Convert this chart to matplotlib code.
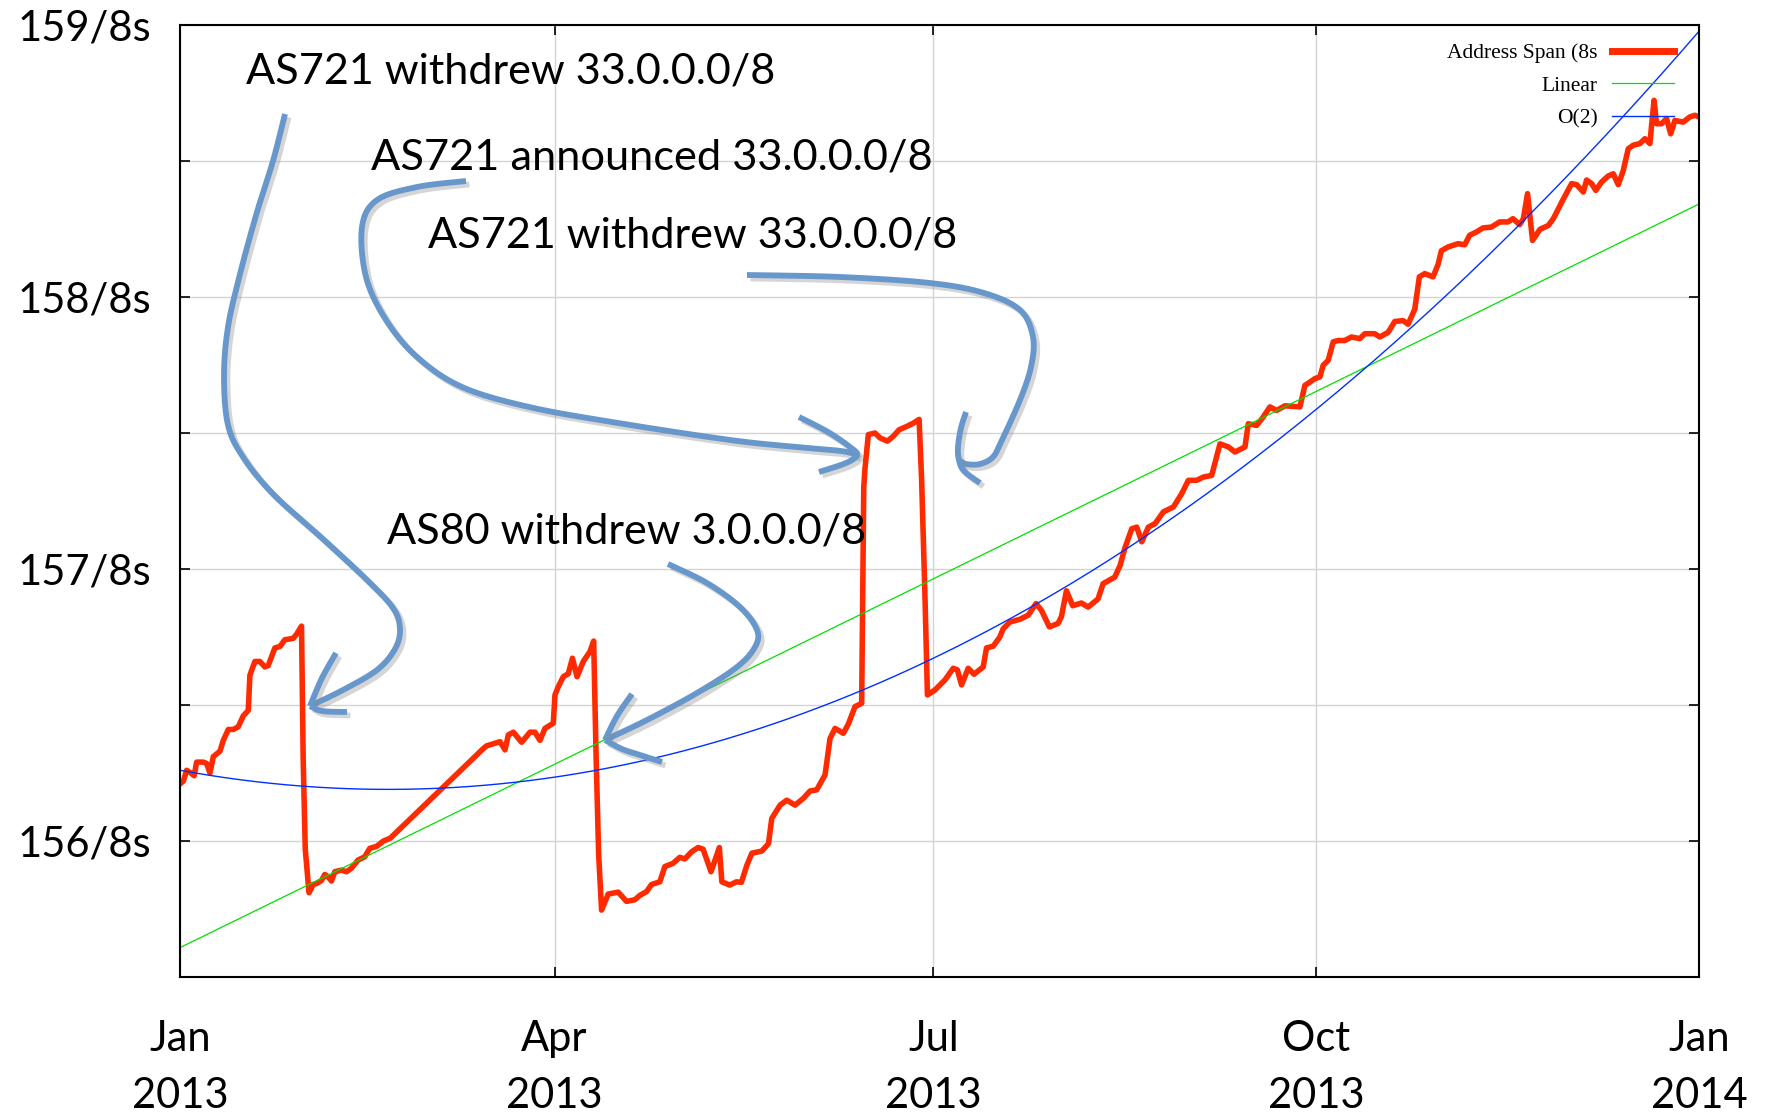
import numpy as np
import matplotlib
matplotlib.use("Agg")
import matplotlib.pyplot as plt
import matplotlib.transforms as mtransforms
import matplotlib.patheffects as pe

# ---------------- data ----------------
days = [0.0, 0.8, 1.6, 2.6, 3.4, 4.0, 5.6, 6.4, 7.2, 8.0, 8.8, 9.6, 10.4, 11.6, 12.8, 14.0,
        15.2, 16.4, 16.8, 18.0, 19.2, 20.4, 21.2, 22.8, 24.0, 25.2, 27.2, 28.0, 29.2, 29.6,
        30.1, 31.0, 32.0, 33.0, 34.0, 34.8, 35.6, 36.4, 37.2, 38.8, 40.0, 41.2, 42.8, 44.4,
        45.6, 47.2, 48.9, 50.5, 72.9, 73.7, 76.9, 78.1, 78.9, 80.1, 82.1, 84.1, 85.3, 86.5,
        87.7, 89.7, 90.1, 90.9, 92.1, 93.3, 94.3, 95.4, 96.9, 98.5, 99.4, 100.0, 100.6, 101.3,
        102.9, 105.3, 107.3, 109.3, 110.5, 112.1, 113.3, 115.3, 116.5, 118.5, 120.1, 121.3,
        122.9, 124.5, 125.7, 127.6, 129.6, 130.2, 132.1, 133.7, 134.9, 136.2, 137.4, 139.8,
        141.4, 142.2, 144.2, 145.8, 147.8, 149.8, 151.4, 153.0, 155.0, 156.2, 157.4, 159.4,
        160.6, 162.2, 163.8, 164.3, 164.6, 165.4, 167.0, 168.2, 170.0, 171.4, 172.8, 174.6,
        176.2, 177.6, 178.2, 179.0, 179.6, 181.4, 183.8, 185.8, 186.8, 187.8, 189.4, 190.8,
        193.0, 193.8, 195.4, 197.0, 197.8, 199.4, 201.8, 203.8, 205.7, 207.0, 208.9, 211.0,
        211.8, 213.0, 214.5, 216.6, 218.2, 220.6, 221.8, 224.6, 225.9, 227.0, 228.7, 229.9,
        231.1, 232.7, 234.3, 236.3, 238.7, 240.7, 242.3, 244.3, 245.9, 247.9, 249.9, 251.9,
        253.5, 255.9, 256.7, 258.7, 260.3, 261.9, 263.5, 265.5, 267.5, 269.1, 270.3, 271.5,
        272.7, 273.9, 274.7, 275.9, 277.1, 278.3, 279.9, 281.5, 283.5, 284.7, 287.1, 288.3,
        290.3, 291.9, 293.9, 295.1, 296.7, 297.8, 299.1, 301.1, 302.3, 303.1, 304.7, 307.1,
        308.7, 309.9, 311.5, 313.1, 315.1, 317.1, 319.1, 320.3, 321.9, 322.8, 323.8, 325.0,
        326.8, 328.8, 330.0, 332.4, 334.4, 335.6, 337.2, 338.0, 339.2, 340.2, 341.6, 343.2,
        344.4, 345.6, 346.8, 348.0, 349.2, 350.8, 352.0, 353.2, 353.6, 354.2, 354.8, 356.0,
        357.2, 358.2, 359.2, 361.2, 362.8, 364.0, 365.0]

span = [156.21, 156.22, 156.26, 156.25, 156.24, 156.29, 156.29, 156.285, 156.25, 156.31, 156.32,
        156.33, 156.37, 156.41, 156.41, 156.42, 156.46, 156.48, 156.61, 156.66, 156.66, 156.64,
        156.645, 156.71, 156.715, 156.74, 156.745, 156.76, 156.79, 156.30, 155.97, 155.81,
        155.84, 155.845, 155.855, 155.877, 155.868, 155.853, 155.887, 155.893, 155.887, 155.90,
        155.93, 155.942, 155.973, 155.98, 156.0, 156.01, 156.34, 156.35, 156.365, 156.335,
        156.39, 156.40, 156.363, 156.40, 156.40, 156.37, 156.414, 156.433, 156.537, 156.567,
        156.604, 156.615, 156.672, 156.604, 156.66, 156.696, 156.735, 156.30, 155.95, 155.746,
        155.805, 155.812, 155.778, 155.784, 155.80, 155.814, 155.84, 155.85, 155.906, 155.918,
        155.94, 155.934, 155.96, 155.976, 155.97, 155.887, 155.976, 155.85, 155.838, 155.85,
        155.848, 155.91, 155.955, 155.963, 155.99, 156.083, 156.132, 156.15, 156.132, 156.157,
        156.184, 156.188, 156.243, 156.377, 156.414, 156.396, 156.43, 156.494, 156.506, 157.30,
        157.37, 157.494, 157.50, 157.482, 157.47, 157.488, 157.512, 157.524, 157.536, 157.55,
        157.33, 156.905, 156.537, 156.555, 156.592, 156.635, 156.629, 156.574, 156.635,
        156.613, 156.64, 156.71, 156.716, 156.75, 156.78, 156.805, 156.815, 156.83, 156.873,
        156.848, 156.787, 156.80, 156.825, 156.92, 156.865, 156.875, 156.86, 156.89, 156.946,
        156.97, 157.013, 157.075, 157.148, 157.154, 157.10, 157.154, 157.167, 157.21, 157.228,
        157.277, 157.326, 157.326, 157.338, 157.344, 157.46, 157.449, 157.43, 157.449, 157.534,
        157.528, 157.559, 157.596, 157.583, 157.60, 157.598, 157.596, 157.675, 157.687, 157.70,
        157.706, 157.749, 157.767, 157.835, 157.84, 157.84, 157.853, 157.847, 157.865, 157.865,
        157.853, 157.87, 157.91, 157.913, 157.90, 157.955, 158.074, 158.086, 158.074, 158.12,
        158.17, 158.184, 158.196, 158.192, 158.227, 158.239, 158.254, 158.257, 158.276,
        158.276, 158.288, 158.266, 158.288, 158.38, 158.208, 158.249, 158.263, 158.288, 158.36,
        158.417, 158.413, 158.386, 158.43, 158.417, 158.392, 158.423, 158.445, 158.453,
        158.413, 158.465, 158.545, 158.558, 158.564, 158.582, 158.564, 158.63, 158.723,
        158.637, 158.637, 158.656, 158.60, 158.649, 158.643, 158.662, 158.668, 158.662]

# fitted curves (coefficients, highest power first)
linear_coef = [0.00749, 155.608]
quad_coef = [2.809e-5, -2.809e-3, 156.26]

xtick_days = [0, 90, 181, 273, 365]
xtick_labels = ["Jan\n2013", "Apr\n2013", "Jul\n2013", "Oct\n2013", "Jan\n2014"]
ytick_vals = [155.5, 156.0, 156.5, 157.0, 157.5, 158.0, 158.5, 159.0]
ytick_labels = ["", "156/8s", "", "157/8s", "", "158/8s", "", "159/8s"]
legend_labels = ["Address Span (8s", "Linear", "O(2)"]

annotations = ["AS721 withdrew 33.0.0.0/8", "AS721 announced 33.0.0.0/8",
               "AS721 withdrew 33.0.0.0/8", "AS80 withdrew 3.0.0.0/8"]

# ---------------- figure ----------------
W, H = 1775, 1112
fig = plt.figure(figsize=(W / 100, H / 100), dpi=100)
ax = fig.add_axes([180 / W, 1 - 977 / H, (1699 - 180) / W, (977 - 25) / H])

RED = "#FF2A00"
ax.plot(days, span, color=RED, lw=4.0, solid_joinstyle="round", zorder=3,
        label=legend_labels[0])
tt = np.linspace(0, 365, 400)
ax.plot(tt, np.polyval(linear_coef, tt), color="#00E000", lw=0.9, zorder=4,
        label=legend_labels[1])
ax.plot(tt, np.polyval(quad_coef, tt), color="#0030FF", lw=1.0, zorder=4,
        label=legend_labels[2])

ax.set_xlim(0, 365)
ax.set_ylim(155.5, 159.0)
ax.set_xticks(xtick_days)
ax.set_xticklabels(xtick_labels, fontfamily="Lato", fontsize=30, linespacing=1.6)
ax.set_yticks(ytick_vals)
ax.set_yticklabels(ytick_labels, fontfamily="Lato", fontsize=30)
ax.tick_params(axis="both", direction="in", length=7, width=1.2, color="black")
ax.tick_params(axis="y", right=True, pad=21)
ax.tick_params(axis="x", top=True, pad=31)
ax.grid(True, color="#D4D4D4", lw=1.0, zorder=0)
for s in ax.spines.values():
    s.set_linewidth(1.5)
    s.set_color("black")
    s.set_zorder(6)

leg = ax.legend(loc="upper right", bbox_to_anchor=(1674 / W, 1 - 43 / H),
                bbox_transform=fig.transFigure, frameon=False, markerfirst=False,
                prop={"family": "Liberation Serif", "size": 15.5},
                handlelength=2.9, handletextpad=0.65, labelspacing=0.59,
                borderpad=0, borderaxespad=0)
leg.get_lines()[0].set_linewidth(5)
leg.set_zorder(7)

# ---------------- annotations (pixel coordinates of the figure) ----------------
pix = mtransforms.Affine2D().scale(1 / W, -1 / H).translate(0, 1) + fig.transFigure

def catmull(points, n=20):
    p = np.asarray(points, float)
    p = np.vstack([p[0], p, p[-1]])
    out = []
    for i in range(1, len(p) - 2):
        p0, p1, p2, p3 = p[i - 1], p[i], p[i + 1], p[i + 2]
        t = np.linspace(0, 1, n, endpoint=False)[:, None]
        out.append(0.5 * ((2 * p1) + (-p0 + p2) * t + (2 * p0 - 5 * p1 + 4 * p2 - p3) * t ** 2
                          + (-p0 + 3 * p1 - 3 * p2 + p3) * t ** 3))
    out.append(p[-2][None, :])
    return np.vstack(out)

ARROW = "#6797CB"
effects = [pe.SimpleLineShadow(offset=(2.5, -2.5), shadow_color="#888888", alpha=0.35),
           pe.Normal()]
strokes = [
    [(285, 114), (273, 161), (257, 212), (240, 274), (228, 327), (224, 376), (228, 425),
     (243, 457), (273, 494), (323, 539), (367, 580), (393, 608), (400, 629), (395, 649),
     (377, 670), (343, 690), (310, 706)],
    [(336, 653), (322, 678), (310, 706)],
    [(310, 706), (322, 711), (347, 712)],
    [(466, 181), (417, 187), (377, 200), (362, 227), (366, 277), (386, 320), (417, 357),
     (462, 387), (529, 407), (618, 423), (730, 440), (796, 447), (841, 451), (857, 455)],
    [(799, 417), (828, 432), (850, 447), (857, 455), (846, 463), (819, 472)],
    [(747, 275), (841, 277), (930, 283), (984, 293), (1020, 310), (1033, 337), (1031, 367),
     (1020, 400), (1002, 440), (993, 457), (980, 464), (966, 464), (959, 460)],
    [(966, 412), (961, 428), (958, 447), (959, 460), (964, 471), (980, 483)],
    [(668, 564), (707, 583), (740, 607), (757, 630), (755, 647), (737, 667), (697, 693),
     (647, 720), (605, 740)],
    [(632, 694), (617, 716), (605, 740)],
    [(605, 740), (622, 749), (640, 755), (662, 762)],
]
for st in strokes:
    c = catmull(st)
    fig.add_artist(matplotlib.lines.Line2D(c[:, 0], c[:, 1], transform=pix, color=ARROW,
                                           lw=4.2, solid_capstyle="butt",
                                           solid_joinstyle="round", zorder=10,
                                           path_effects=effects))

# text: (left x, baseline y, target width) in pixels
text_pos = [(246, 83, 531), (371, 170, 563), (428, 247, 531), (387, 543, 481)]
texts = []
for s, (x, y, w) in zip(annotations, text_pos):
    t = fig.text(x, y, s, transform=pix, ha="left", va="baseline", family="Lato",
                 fontsize=32, color="black", zorder=11)
    texts.append((t, w))
fig.canvas.draw()
r = fig.canvas.get_renderer()
for t, w in texts:
    cur = t.get_window_extent(r).width
    t.set_fontsize(t.get_fontsize() * w / cur)

fig.savefig("out.png", dpi=100, facecolor="white")
